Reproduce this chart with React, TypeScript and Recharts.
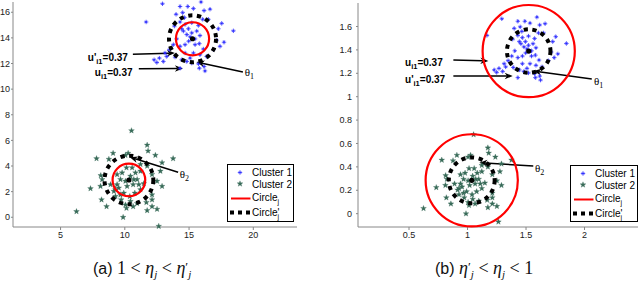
import React from 'react';
import { ScatterChart, Scatter, XAxis, YAxis, ReferenceLine, ReferenceDot, Legend } from 'recharts';

// ---------- data: panel (a) ----------
const cluster1A: [number, number][] = [
  [12.93,16.66],[14.3,16.45],[14.9,16.45],[15.34,16.29],[15.93,16.8],[16.17,16.13],[16.63,16.24],[11.66,15.24],
  [13.99,15.84],[14.5,15.97],[14.64,15.58],[14.3,15.24],[13.86,14.92],[16.06,15.45],[16.5,15.45],[17.54,15.13],
  [17.28,14.71],[18.45,14.55],[17.72,13.66],[17.15,13.82],[17.41,13.34],[16.9,13.08],[16.11,13.13],[15.8,13.55],
  [15.47,13.92],[15.21,14.39],[14.82,14.26],[14.56,14.53],[14.43,14.71],[14.95,14.71],[15.6,14.53],[15.85,14.18],
  [14.97,13.74],[14.69,13.47],[14.3,13.34],[14.04,13.92],[13.78,13.47],[13.47,13.08],[13.13,12.82],[12.69,12.42],
  [12.49,12.08],[12.28,12.29],[13.0,12.16],[13.26,12.55],[13.91,12.5],[14.43,12.29],[14.82,12.16],[15.21,12.03],
  [15.73,11.97],[16.17,11.76],[15.08,12.42],[16.37,12.55],[15.34,12.82],[15.85,12.68],[14.69,12.82],[16.24,11.42],
  [15.8,11.63],[14.3,11.63],[15.08,14.08],[15.47,13.47],[15.73,14.97],[15.21,15.18],[14.69,15.05]
];
const cluster2A: [number, number][] = [
  [10.52,6.76],[11.74,5.63],[11.81,5.18],[12.38,4.84],[13.76,4.58],[12.9,4.26],[7.8,4.58],[9.09,5.0],
  [10.05,4.84],[10.26,5.0],[8.76,4.53],[8.13,3.26],[8.24,2.95],[8.11,2.42],[7.33,2.24],[6.24,0.45],
  [8.58,0.84],[8.19,1.37],[9.15,2.03],[9.4,2.55],[9.66,2.95],[9.79,3.47],[10.13,3.87],[10.57,3.87],
  [10.83,3.47],[11.22,3.6],[10.96,2.95],[10.65,2.55],[10.18,2.42],[9.92,1.89],[9.53,2.29],[9.27,1.63],
  [9.72,1.37],[10.39,1.63],[10.78,1.89],[11.22,2.16],[11.48,2.63],[10.44,3.21],[10.05,2.82],[9.4,3.34],
  [11.22,4.13],[11.74,4.0],[12.12,3.34],[12.77,3.6],[12.9,2.42],[12.51,2.82],[12.12,1.76],[12.12,1.37],
  [11.68,1.16],[12.12,0.84],[12.51,0.63],[11.74,0.53],[10.44,1.24],[10.05,0.97],[10.13,0.71],[9.87,0.0],
  [12.64,-0.7],[10.65,0.84],[10.96,1.08],[9.27,2.16],[9.66,1.76],[8.89,2.55],[10.7,2.95],[11.09,2.55]
];
const centersA: [number, number][] = [[15.27, 13.93], [10.32, 2.91]];
const redRadiiA = [1.29, 1.27];
const dashRadiiA = [1.83, 1.9];
const xTicksA = [5, 10, 15, 20];
const yTicksA = [0, 2, 4, 6, 8, 10, 12, 14, 16];

// ---------- data: panel (b) ----------
const cluster1B: [number, number][] = [
  [1.293,1.666],[1.43,1.645],[1.49,1.645],[1.534,1.629],[1.593,1.68],[1.617,1.613],[1.663,1.624],[1.166,1.524],
  [1.399,1.584],[1.45,1.597],[1.464,1.558],[1.43,1.524],[1.386,1.492],[1.606,1.545],[1.65,1.545],[1.754,1.513],
  [1.728,1.471],[1.845,1.455],[1.772,1.366],[1.715,1.382],[1.741,1.334],[1.69,1.308],[1.611,1.313],[1.58,1.355],
  [1.547,1.392],[1.521,1.439],[1.482,1.426],[1.456,1.453],[1.443,1.471],[1.495,1.471],[1.56,1.453],[1.585,1.418],
  [1.497,1.374],[1.469,1.347],[1.43,1.334],[1.404,1.392],[1.378,1.347],[1.347,1.308],[1.313,1.282],[1.269,1.242],
  [1.249,1.208],[1.228,1.229],[1.3,1.216],[1.326,1.255],[1.391,1.25],[1.443,1.229],[1.482,1.216],[1.521,1.203],
  [1.573,1.197],[1.617,1.176],[1.508,1.242],[1.637,1.255],[1.534,1.282],[1.585,1.268],[1.469,1.282],[1.624,1.142],
  [1.58,1.163],[1.43,1.163],[1.508,1.408],[1.547,1.347],[1.573,1.497],[1.521,1.518],[1.469,1.505]
];
const cluster2B: [number, number][] = [
  [1.052,0.676],[1.174,0.563],[1.181,0.518],[1.238,0.484],[1.376,0.458],[1.29,0.426],[0.78,0.458],[0.909,0.5],
  [1.005,0.484],[1.026,0.5],[0.876,0.453],[0.813,0.326],[0.824,0.295],[0.811,0.242],[0.733,0.224],[0.624,0.045],
  [0.858,0.084],[0.819,0.137],[0.915,0.203],[0.94,0.255],[0.966,0.295],[0.979,0.347],[1.013,0.387],[1.057,0.387],
  [1.083,0.347],[1.122,0.36],[1.096,0.295],[1.065,0.255],[1.018,0.242],[0.992,0.189],[0.953,0.229],[0.927,0.163],
  [0.972,0.137],[1.039,0.163],[1.078,0.189],[1.122,0.216],[1.148,0.263],[1.044,0.321],[1.005,0.282],[0.94,0.334],
  [1.122,0.413],[1.174,0.4],[1.212,0.334],[1.277,0.36],[1.29,0.242],[1.251,0.282],[1.212,0.176],[1.212,0.137],
  [1.168,0.116],[1.212,0.084],[1.251,0.063],[1.174,0.053],[1.044,0.124],[1.005,0.097],[1.013,0.071],[0.987,0.0],
  [1.264,-0.07],[1.065,0.084],[1.096,0.108],[0.927,0.216],[0.966,0.176],[0.889,0.255],[1.07,0.295],[1.109,0.255]
];
const centersB: [number, number][] = [[1.523, 1.39], [1.036, 0.285]];
const redRadiiB = [0.394, 0.394];
const dashRadiiB = [0.186, 0.196];
const xTicksB = [0.5, 1, 1.5, 2];
const yTicksB = [0, 0.2, 0.4, 0.6, 0.8, 1, 1.2, 1.4, 1.6];

// annotations: [x, y] data coordinates
const annA = {
  uPrimeText: [7.12, 12.2], uPrimeArrow: [[10.63, 12.73], [13.9, 12.81]],
  uText: [7.67, 11.04], uArrow: [[11.09, 11.59], [14.52, 11.61]],
  theta1Line: [[19.19, 11.33], [15.58, 12.11]], theta1Text: [19.34, 11.0],
  theta2Line: [[14.15, 3.52], [10.39, 4.69]], theta2Text: [14.28, 3.05],
};
const annB = {
  uText: [0.466, 1.262], uArrow: [[0.879, 1.314], [1.178, 1.305]],
  uPrimeText: [0.466, 1.117], uPrimeArrow: [[0.879, 1.177], [1.386, 1.177]],
  theta1Line: [[2.062, 1.151], [1.562, 1.22]], theta1Text: [2.08, 1.1],
  theta2Line: [[1.562, 0.408], [1.101, 0.436]], theta2Text: [1.577, 0.356],
};

const SANS = 'Liberation Sans, Arial, Helvetica, sans-serif';
const SERIF = 'Liberation Serif, Times New Roman, serif';
const BLUE = '#2a2aff';
const GREEN = '#386b58';

const plusStar = (cx: number, cy: number, key?: any) => (
  <g key={key} stroke={BLUE} strokeWidth={0.8}>
    <line x1={cx - 2.2} y1={cy} x2={cx + 2.2} y2={cy} />
    <line x1={cx} y1={cy - 2.2} x2={cx} y2={cy + 2.2} />
    <line x1={cx - 1.2} y1={cy - 1.2} x2={cx + 1.2} y2={cy + 1.2} />
    <line x1={cx - 1.2} y1={cy + 1.2} x2={cx + 1.2} y2={cy - 1.2} />
  </g>
);
const star = (cx: number, cy: number, key?: any) => {
  const pts: string[] = [];
  for (let i = 0; i < 10; i++) {
    const r = i % 2 === 0 ? 3.0 : 1.25;
    const a = -Math.PI / 2 + (i * Math.PI) / 5;
    pts.push(`${cx + r * Math.cos(a)},${cy + r * Math.sin(a)}`);
  }
  return <polygon key={key} points={pts.join(' ')} fill={GREEN} stroke={GREEN} strokeWidth={0.3} />;
};

const arrowShape = (p: any) => {
  const { x1, y1, x2, y2 } = p;
  const dx = x2 - x1, dy = y2 - y1;
  const len = Math.hypot(dx, dy) || 1;
  const ux = dx / len, uy = dy / len;
  const L = 8, H = 3.3;
  const bx = x2 - ux * L, by = y2 - uy * L;
  const nx = x2 - ux * L * 0.7, ny = y2 - uy * L * 0.7;
  return (
    <g>
      <line x1={x1} y1={y1} x2={nx} y2={ny} stroke="#000" strokeWidth={1.5} />
      <polygon points={`${x2},${y2} ${bx - uy * H},${by + ux * H} ${nx},${ny} ${bx + uy * H},${by - ux * H}`} fill="#000" />
    </g>
  );
};

const uLabel = (prime: boolean) => (p: any) => (
  <text x={p.cx} y={p.cy} fontFamily={SANS} fontWeight="bold" fontSize={10} fill="#000">
    <tspan>{prime ? "u'" : 'u'}</tspan>
    <tspan fontSize={7.5} dy={3}>i1</tspan>
    <tspan dy={-3}>=0.37</tspan>
  </text>
);
const thetaLabel = (sub: string) => (p: any) => (
  <text x={p.cx} y={p.cy} fontFamily={SERIF} fontSize={11} fill="#000">
    <tspan>θ</tspan>
    <tspan fontSize={8} dy={3}>{sub}</tspan>
  </text>
);

const LegendBox = ({ w, h }: { w: number; h: number }) => (
  <svg width={w} height={h} style={{ display: 'block' }}>
    <rect x={0.5} y={0.5} width={w - 1} height={h - 1} fill="#fff" stroke="#000" strokeWidth={1} />
    {plusStar(13, 8.5)}
    <text x={25} y={12} fontFamily={SANS} fontSize={10} fill="#000">Cluster 1</text>
    {star(13, 19.8)}
    <text x={25} y={23.5} fontFamily={SANS} fontSize={10} fill="#000">Cluster 2</text>
    <line x1={4} x2={23.5} y1={34.5} y2={34.5} stroke="#f00" strokeWidth={2} />
    <text x={25} y={37} fontFamily={SANS} fontSize={10} fill="#000">Circle<tspan fontSize={7} dy={3}>j</tspan></text>
    <rect x={3} y={46.5} width={4} height={4} fill="#000" />
    <rect x={11} y={46.5} width={4} height={4} fill="#000" />
    <rect x={19} y={46.5} width={4} height={4} fill="#000" />
    <text x={25} y={51.5} fontFamily={SANS} fontSize={10} fill="#000">Circle'<tspan fontSize={7} dx={-2} dy={3}>j</tspan></text>
  </svg>
);

type PanelCfg = {
  width: number; height: number; margin: any; yAxisWidth: number;
  xDomain: [number, number]; yDomain: [number, number];
  xTicks: number[]; yTicks: number[];
  c1: [number, number][]; c2: [number, number][];
  centers: [number, number][]; redR: number[]; dashR: number[];
  ann: any; legendPos: { left: number; top: number; w: number; h: number };
  tickMargin: number;
};

function Panel({ cfg }: { cfg: PanelCfg }) {
  const plotW = cfg.width - cfg.margin.left - cfg.margin.right - cfg.yAxisWidth;
  const plotH = cfg.height - cfg.margin.top - cfg.margin.bottom - 13;
  const pxX = plotW / (cfg.xDomain[1] - cfg.xDomain[0]);
  const pxY = plotH / (cfg.yDomain[1] - cfg.yDomain[0]);
  const c1 = cfg.c1.map(([x, y]) => ({ x, y }));
  const c2 = cfg.c2.map(([x, y]) => ({ x, y }));
  const red = cfg.centers.map(([x, y], i) => ({ x, y, r: cfg.redR[i] }));
  const dash = cfg.centers.map(([x, y], i) => ({ x, y, r: cfg.dashR[i] }));
  const ctr = cfg.centers.map(([x, y]) => ({ x, y }));
  const a = cfg.ann;
  const tick = { fontSize: 9, fill: '#222', fontFamily: SANS };
  return (
    <ScatterChart width={cfg.width} height={cfg.height} margin={cfg.margin}>
      <XAxis type="number" dataKey="x" domain={cfg.xDomain} ticks={cfg.xTicks} tick={tick}
        stroke="#888" tickSize={3} tickMargin={2} height={13} interval={0} />
      <YAxis type="number" dataKey="y" domain={cfg.yDomain} ticks={cfg.yTicks} tick={tick}
        stroke="#888" tickSize={2} tickMargin={cfg.tickMargin} width={cfg.yAxisWidth} interval={0} />
      <Scatter name="Cluster 1" data={c1} isAnimationActive={false}
        shape={(p: any) => plusStar(p.cx, p.cy)} />
      <Scatter name="Cluster 2" data={c2} isAnimationActive={false}
        shape={(p: any) => star(p.cx, p.cy)} />
      <Scatter name="Circle_j" data={red} isAnimationActive={false}
        shape={(p: any) => (
          <ellipse cx={p.cx} cy={p.cy} rx={p.payload.r * pxX} ry={p.payload.r * pxY}
            fill="none" stroke="#f00" strokeWidth={2.2} />
        )} />
      <Scatter name="Circle'_j" data={dash} isAnimationActive={false}
        shape={(p: any) => (
          <ellipse cx={p.cx} cy={p.cy} rx={p.payload.r * pxX} ry={p.payload.r * pxY}
            fill="none" stroke="#000" strokeWidth={4} strokeDasharray="4.2 4.6" />
        )} />
      <Scatter name="center" data={ctr} isAnimationActive={false}
        shape={(p: any) => <circle cx={p.cx} cy={p.cy} r={2.6} fill="#000" />} />
      <ReferenceLine segment={[{ x: a.uPrimeArrow[0][0], y: a.uPrimeArrow[0][1] }, { x: a.uPrimeArrow[1][0], y: a.uPrimeArrow[1][1] }]}
        ifOverflow="visible" shape={arrowShape} />
      <ReferenceLine segment={[{ x: a.uArrow[0][0], y: a.uArrow[0][1] }, { x: a.uArrow[1][0], y: a.uArrow[1][1] }]}
        ifOverflow="visible" shape={arrowShape} />
      <ReferenceLine segment={[{ x: a.theta1Line[0][0], y: a.theta1Line[0][1] }, { x: a.theta1Line[1][0], y: a.theta1Line[1][1] }]}
        ifOverflow="visible" shape={arrowShape} />
      <ReferenceLine segment={[{ x: a.theta2Line[0][0], y: a.theta2Line[0][1] }, { x: a.theta2Line[1][0], y: a.theta2Line[1][1] }]}
        ifOverflow="visible" shape={arrowShape} />
      <ReferenceDot x={a.uPrimeText[0]} y={a.uPrimeText[1]} ifOverflow="visible" shape={uLabel(true)} />
      <ReferenceDot x={a.uText[0]} y={a.uText[1]} ifOverflow="visible" shape={uLabel(false)} />
      <ReferenceDot x={a.theta1Text[0]} y={a.theta1Text[1]} ifOverflow="visible" shape={thetaLabel('1')} />
      <ReferenceDot x={a.theta2Text[0]} y={a.theta2Text[1]} ifOverflow="visible" shape={thetaLabel('2')} />
      <Legend layout="vertical" align="center" verticalAlign="middle"
        wrapperStyle={{ left: cfg.legendPos.left, top: cfg.legendPos.top, width: cfg.legendPos.w, height: cfg.legendPos.h }}
        content={() => <LegendBox w={cfg.legendPos.w} h={cfg.legendPos.h} />} />
    </ScatterChart>
  );
}

const cfgA: PanelCfg = {
  width: 300, height: 240, margin: { top: 2, right: 3, bottom: 0, left: 0 }, yAxisWidth: 13,
  xDomain: [1.3, 23.4], yDomain: [-0.76, 16.8], xTicks: xTicksA, yTicks: yTicksA,
  c1: cluster1A, c2: cluster2A, centers: centersA, redR: redRadiiA, dashR: dashRadiiA,
  ann: annA, legendPos: { left: 227, top: 164, w: 67, h: 58 }, tickMargin: 1,
};
const cfgB: PanelCfg = {
  width: 320, height: 240, margin: { top: 3, right: 2, bottom: 0, left: 0 }, yAxisWidth: 38,
  xDomain: [0.064, 2.457], yDomain: [-0.114, 1.801], xTicks: xTicksB, yTicks: yTicksB,
  c1: cluster1B, c2: cluster2B, centers: centersB, redR: redRadiiB, dashR: dashRadiiB,
  ann: annB, legendPos: { left: 250, top: 165, w: 68, h: 57 }, tickMargin: 4,
};

const subStyle: React.CSSProperties = { fontSize: 11, fontStyle: 'italic', position: 'relative', top: 4 };
const primeStyle: React.CSSProperties = { fontSize: 13, position: 'relative', top: -3 };

export default function App() {
  return (
    <div style={{ position: 'absolute', left: 0, top: 0, width: 640, height: 281, background: '#fff', overflow: 'hidden', fontFamily: SANS }}>
      <div style={{ position: 'absolute', left: 0, top: 0 }}>
        <Panel cfg={cfgA} />
      </div>
      <div style={{ position: 'absolute', left: 320, top: 0 }}>
        <Panel cfg={cfgB} />
      </div>
      <div style={{ position: 'absolute', left: 93, top: 258, fontSize: 18, fontFamily: SERIF, whiteSpace: 'nowrap', color: '#111' }}>
        <span style={{ fontFamily: SANS, fontSize: 16 }}>(a)</span> 1 &lt; <i>η</i><span style={subStyle}>j</span> &lt; <i>η</i><span style={primeStyle}>′</span><span style={subStyle}>j</span>
      </div>
      <div style={{ position: 'absolute', left: 435, top: 258, fontSize: 18, fontFamily: SERIF, whiteSpace: 'nowrap', color: '#111' }}>
        <span style={{ fontFamily: SANS, fontSize: 16 }}>(b)</span> <i>η</i><span style={primeStyle}>′</span><span style={subStyle}>j</span> &lt; <i>η</i><span style={subStyle}>j</span> &lt; 1
      </div>
    </div>
  );
}
